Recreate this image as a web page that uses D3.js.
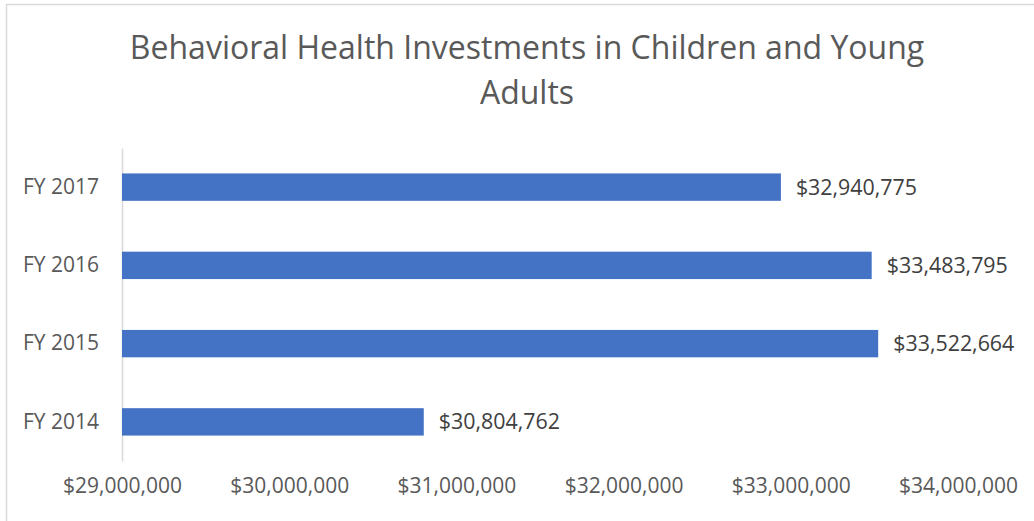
<!DOCTYPE html>
<html>
<head>
    <meta charset="utf-8">
    <title>Behavioral Health Investments</title>
    <script src="https://cdn.jsdelivr.net/npm/d3@7"></script>
    <style>
        body { margin: 0; background: #fff; }
        text { font-family: "Open Sans", sans-serif; }
    </style>
</head>
<body>
<script>
    // data
    let years = ["FY 2017", "FY 2016", "FY 2015", "FY 2014"];
    let amounts = [32940775, 33483795, 33522664, 30804762];
    let tickValues = [29000000, 30000000, 31000000, 32000000, 33000000, 34000000];
    let titleLines = ["Behavioral Health Investments in Children and Young", "Adults"];

    let width = 1034, height = 521;

    let svg = d3.select("body").append("svg")
        .attr("width", width)
        .attr("height", height);

    // chart border
    svg.append("rect")
        .attr("x", 6.5).attr("y", 4.5)
        .attr("width", 1040).attr("height", 540)
        .attr("fill", "none")
        .attr("stroke", "#d9d9d9")
        .attr("stroke-width", 1.5);

    // title
    svg.append("text")
        .attr("text-anchor", "middle")
        .attr("fill", "#595959")
        .style("font-size", "32px")
        .selectAll("tspan")
        .data(titleLines)
        .enter().append("tspan")
        .attr("x", 527)
        .attr("y", function (d, i) { return 59 + i * 45; })
        .text(function (d) { return d; });

    let x = d3.scaleLinear()
        .domain([29000000, 34000000])
        .range([122, 958]);

    let y = d3.scaleBand()
        .domain(years)
        .range([148, 461])
        .paddingInner(0.65)
        .paddingOuter(0.325);

    let fmt = d3.format("$,");

    // x axis labels (no line, no ticks)
    let xAxis = d3.axisBottom(x)
        .tickValues(tickValues)
        .tickFormat(fmt)
        .tickSize(0)
        .tickPadding(0);

    let xg = svg.append("g")
        .attr("transform", "translate(0,478)")
        .call(xAxis);
    xg.select(".domain").remove();
    xg.selectAll("text")
        .attr("fill", "#595959")
        .style("font-family", "'Open Sans', sans-serif")
        .style("font-size", "21px");

    // y axis
    let yAxis = d3.axisLeft(y)
        .tickSize(0)
        .tickPadding(23);

    let yg = svg.append("g")
        .attr("transform", "translate(122,0)")
        .call(yAxis);
    yg.select(".domain")
        .attr("stroke", "#d9d9d9")
        .attr("stroke-width", 1.5);
    yg.selectAll("text")
        .attr("fill", "#595959")
        .style("font-family", "'Open Sans', sans-serif")
        .style("font-size", "21px");

    // bars
    let data = years.map(function (d, i) { return { year: d, value: amounts[i] }; });

    svg.append("g").selectAll("rect.bar")
        .data(data)
        .enter().append("rect")
        .attr("class", "bar")
        .attr("x", x(29000000))
        .attr("y", function (d) { return y(d.year); })
        .attr("width", function (d) { return x(d.value) - x(29000000); })
        .attr("height", y.bandwidth())
        .attr("fill", "#4472c4");

    // value labels
    svg.append("g").selectAll("text.label")
        .data(data)
        .enter().append("text")
        .attr("class", "label")
        .attr("x", function (d) { return x(d.value) + 15; })
        .attr("y", function (d) { return y(d.year) + y.bandwidth() / 2; })
        .attr("dy", "0.35em")
        .attr("fill", "#404040")
        .style("font-size", "21.4px")
        .text(function (d) { return fmt(d.value); });
</script>
</body>
</html>
